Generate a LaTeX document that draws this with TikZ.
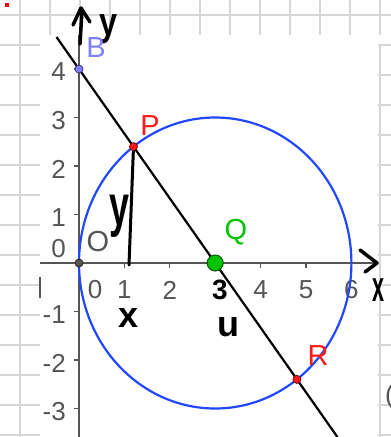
\documentclass[tikz,border=0pt]{standalone}
\usepackage{fontspec}
\setmainfont{Liberation Sans}
\usepackage{graphicx}
\definecolor{gridc}{HTML}{D6D6D6}
\definecolor{axc}{HTML}{555555}
\definecolor{ggblue}{HTML}{2147FF}
\definecolor{bcol}{HTML}{7F7FFF}
\definecolor{pcol}{HTML}{FF1A1A}
\definecolor{qcol}{HTML}{00C400}
\begin{document}
\begin{tikzpicture}[x=1pt,y=-1pt,
  gridline/.style={gridc, line width=2pt},
  axisline/.style={axc, line width=1.2pt},
  ticklab/.style={font=\fontsize{26}{26}\selectfont, text=axc, inner sep=0pt},
  ptlabel/.style={font=\fontsize{29}{29}\selectfont, inner sep=0pt},
  hand/.style={line width=3.5pt, line cap=round, line join=round, black},
  handtxt/.style={font=\fontsize{36}{36}\selectfont\bfseries, inner sep=0pt, text=black},
  ptdot/.style={circle, draw=#1!45!black, fill=#1, inner sep=0pt, minimum size=8pt, line width=0.8pt}
]
\useasboundingbox (0,0) rectangle (391,437);
\clip (0,0) rectangle (391,437);
% background grid paper
\foreach \gx in {20,50,...,380} \draw[gridline] (\gx,0) -- (\gx,437);
\foreach \gy in {15,45,...,435} \draw[gridline] (0,\gy) -- (391,\gy);
\fill[white] (40,35) rectangle (378,437);
\fill[white] (378,35) rectangle (391,44);
\fill[red] (5,3) rectangle (9,7);
\node[font=\fontsize{26}{26}\selectfont, text=axc, anchor=west, inner sep=0pt] (paren) at (385,397) {(};
% axes
\coordinate (xstart) at (40,263);
\coordinate (xend) at (377,263);
\coordinate (ytop) at (79,35);
\coordinate (ybot) at (79,437);
\draw[axisline] (xstart) -- (xend);
\draw[axisline] (ytop) -- (ybot);
\draw[axc, line width=1.5pt] (40,277) -- (40,298);
\foreach \k in {1,...,6} \draw[axisline] ({79+45.4*\k},263) -- ({79+45.4*\k},268);
\foreach \k in {-3,...,4} \draw[axisline] (74,{263-48.5*\k}) -- (79,{263-48.5*\k});
\foreach \k in {1,2,4,5,6} \node[ticklab] at ({79+45.4*\k},290) {\k};
\node[ticklab] (t0) at (95,290) {0};
\foreach \k in {1,2,3,4} \node[ticklab, anchor=east] at (66,{263-48.5*\k+3}) {\k};
\foreach \k in {1,2,3} \node[ticklab, anchor=east] at (66,{263+48.5*\k+3}) {-\k};
\node[ticklab, anchor=east] (y0) at (66,249) {0};
% geometry
\coordinate (cB) at (79,69);
\coordinate (cO) at (79,263);
\coordinate (cQ) at (215.2,263);
\coordinate (cP) at (133.5,146.6);
\coordinate (cR) at (296.9,379.4);
\coordinate (Ltop) at (56.5,37);
\coordinate (Lbot) at (337.4,437);
\draw[ggblue, line width=2.2pt] (cQ) circle [x radius=136.2, y radius=145.5];
\draw[black, line width=2.2pt] (Ltop) -- (Lbot);
% hand-drawn annotations
\coordinate (foot) at (129,265);
\draw[hand, line width=3pt] (cP) -- (foot);
\draw[hand] (80,44) -- (82,10);
\draw[hand] (73,25) -- (81,8) -- (90,22);
\draw[hand] (360,250) -- (xend) -- (365,272);
\node[handtxt] (hy) at (109,29) {\scalebox{0.9}[1.1]{y}};
\node[handtxt] (hy2) at (120,216) {\scalebox{1}[1.6]{y}};
\node[handtxt] (hx) at (129,318) {x};
\node[handtxt] (hu) at (228,327) {u};
\node[handtxt, font=\fontsize{28}{28}\selectfont\bfseries] (h3) at (220,290) {3};
\node[handtxt] (hx2) at (379,290) {\scalebox{0.6}[1.2]{x}};
% points
\node[ptdot=bcol] (B) at (cB) {};
\node[ptdot=axc] (O) at (cO) {};
\node[ptdot=pcol] (P) at (cP) {};
\node[ptdot=pcol] (R) at (cR) {};
\node[ptdot=qcol, minimum size=16pt, line width=1pt] (Q) at (cQ) {};
% labels
\node[ptlabel, text=bcol] (lB) at (96,48) {B};
\node[ptlabel, text=pcol] (lP) at (150,126) {P};
\node[ptlabel, text=qcol] (lQ) at (236,232) {Q};
\node[ptlabel, text=pcol] (lR) at (318,356) {R};
\node[ptlabel, text=axc] (lO) at (98,242) {O};
\end{tikzpicture}
\end{document}
